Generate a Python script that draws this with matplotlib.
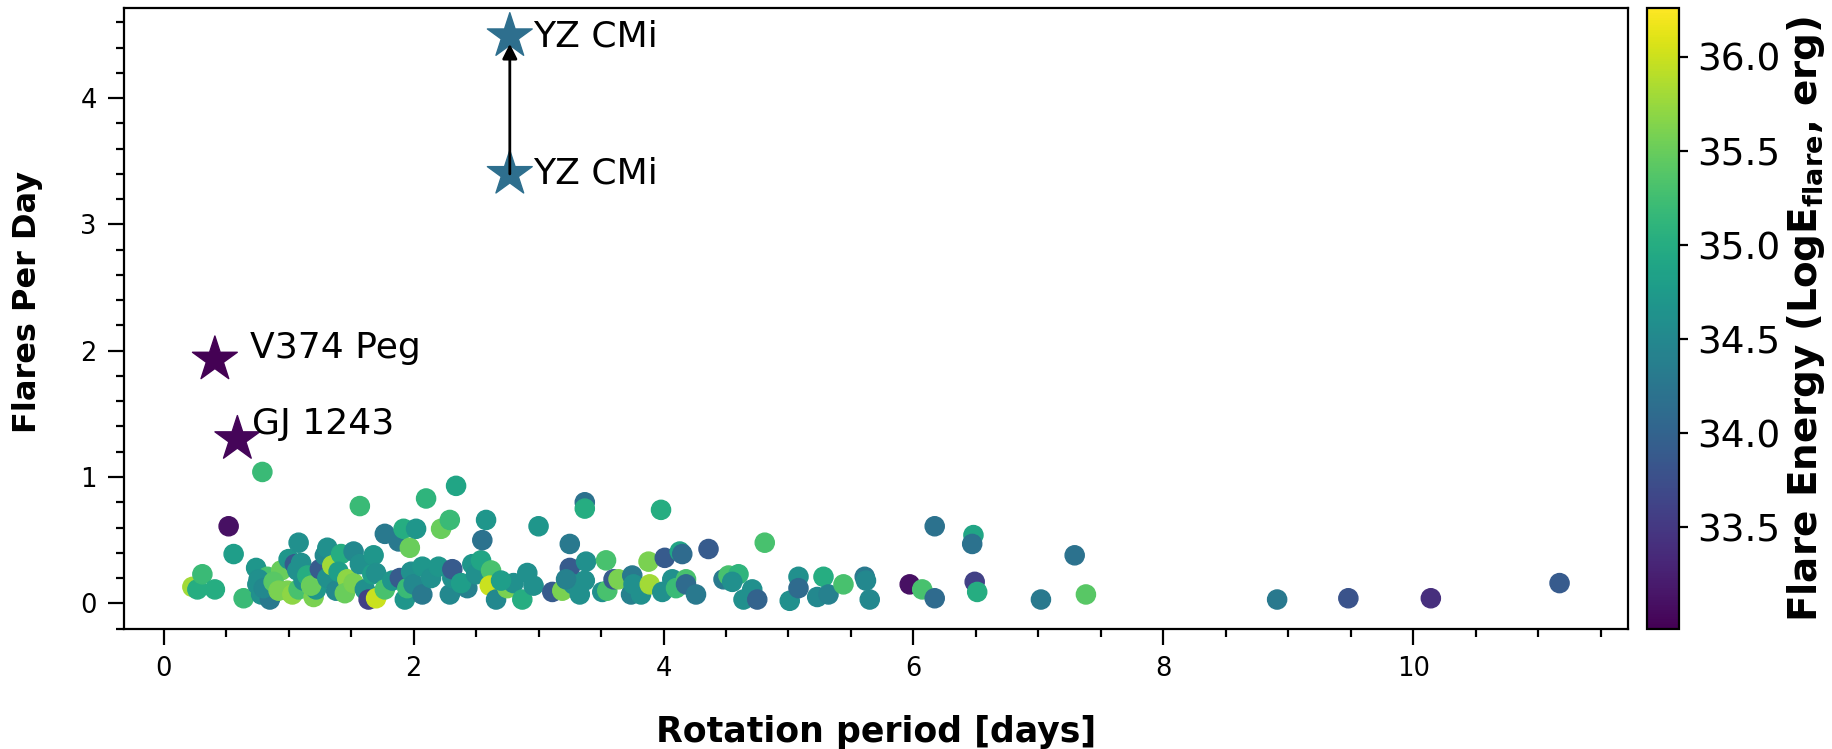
import matplotlib
matplotlib.use("Agg")
import matplotlib.pyplot as plt
from matplotlib.ticker import MultipleLocator

# Rotation period [days], flare rate [per day], log flare energy [erg]
period = [
    0.23, 0.27, 0.31, 0.41, 0.52, 0.56, 0.64, 0.74, 0.75, 0.78,
    0.79, 0.83, 0.85, 0.76, 0.80, 0.94, 0.88, 0.92, 0.99, 1.00,
    1.03, 1.05, 1.07, 1.08, 1.08, 1.10, 1.12, 1.15, 1.20, 1.22,
    1.18, 1.25, 1.29, 1.31, 1.31, 1.35, 1.38, 1.42, 1.40, 1.47,
    1.45, 1.52, 1.52, 1.57, 1.57, 1.61, 1.64, 1.67, 1.68, 1.70,
    1.70, 1.77, 1.77, 1.83, 1.88, 1.89, 1.92, 1.93, 1.97, 1.95,
    1.98, 2.00, 2.02, 2.07, 2.07, 2.10, 2.14, 2.20, 2.22, 2.29,
    2.29, 2.31, 2.31, 2.34, 2.43, 2.47, 2.38, 2.50, 2.54, 2.55,
    2.58, 2.62, 2.61, 2.66, 2.75, 2.80, 2.87, 2.91, 2.96, 3.00,
    2.70, 3.11, 3.19, 3.25, 3.25, 3.28, 3.33, 3.37, 3.37, 3.38,
    3.37, 3.22, 3.51, 3.54, 3.55, 3.60, 3.64, 3.74, 3.75, 3.76,
    3.82, 3.88, 3.89, 3.98, 3.99, 4.01, 4.07, 4.10, 4.13, 4.15,
    4.18, 4.18, 4.26, 4.36, 4.48, 4.52, 4.60, 4.55, 4.64, 4.71,
    4.75, 4.81, 5.01, 5.08, 5.08, 5.23, 5.28, 5.32, 5.44, 5.61,
    5.62, 5.65, 5.97, 6.07, 6.17, 6.17, 6.48, 6.47, 6.49, 6.51,
    7.02, 7.29, 7.38, 8.91, 9.48, 10.14, 11.17,
]
flares_per_day = [
    0.13, 0.11, 0.23, 0.11, 0.61, 0.39, 0.04, 0.28, 0.15, 0.07,
    1.04, 0.21, 0.03, 0.19, 0.12, 0.26, 0.17, 0.10, 0.10, 0.35,
    0.07, 0.31, 0.26, 0.48, 0.11, 0.32, 0.18, 0.22, 0.05, 0.11,
    0.14, 0.27, 0.38, 0.44, 0.20, 0.30, 0.10, 0.39, 0.25, 0.19,
    0.08, 0.16, 0.41, 0.77, 0.31, 0.11, 0.03, 0.23, 0.38, 0.04,
    0.24, 0.55, 0.11, 0.18, 0.49, 0.20, 0.59, 0.03, 0.44, 0.12,
    0.25, 0.15, 0.59, 0.29, 0.07, 0.83, 0.20, 0.29, 0.59, 0.66,
    0.07, 0.20, 0.27, 0.93, 0.12, 0.31, 0.16, 0.23, 0.34, 0.50,
    0.66, 0.26, 0.14, 0.03, 0.12, 0.16, 0.03, 0.24, 0.14, 0.61,
    0.18, 0.09, 0.10, 0.47, 0.28, 0.15, 0.07, 0.80, 0.75, 0.33,
    0.18, 0.19, 0.09, 0.34, 0.10, 0.19, 0.19, 0.07, 0.22, 0.15,
    0.07, 0.33, 0.15, 0.74, 0.09, 0.36, 0.19, 0.12, 0.41, 0.39,
    0.19, 0.15, 0.07, 0.43, 0.19, 0.22, 0.23, 0.17, 0.03, 0.11,
    0.03, 0.48, 0.02, 0.21, 0.12, 0.05, 0.21, 0.07, 0.15, 0.21,
    0.18, 0.03, 0.15, 0.11, 0.61, 0.04, 0.54, 0.47, 0.17, 0.09,
    0.03, 0.38, 0.07, 0.03, 0.04, 0.04, 0.16,
]
log_energy = [
    35.8, 35.0, 35.2, 35.0, 33.1, 34.8, 35.2, 34.7, 34.6, 34.6,
    35.2, 35.3, 34.3, 34.6, 34.5, 35.5, 35.4, 35.6, 35.6, 34.7,
    35.7, 33.9, 34.6, 34.6, 35.3, 34.6, 34.6, 35.0, 35.6, 34.7,
    35.5, 33.9, 34.5, 34.6, 34.6, 35.8, 34.5, 35.0, 34.8, 35.7,
    35.5, 35.6, 34.5, 35.2, 34.6, 34.6, 33.6, 34.8, 34.7, 36.0,
    34.6, 34.3, 35.3, 34.7, 34.3, 33.9, 35.0, 34.7, 35.5, 35.2,
    34.6, 34.5, 34.7, 34.7, 34.3, 35.1, 34.6, 34.7, 35.5, 35.2,
    34.5, 34.6, 33.9, 34.9, 34.4, 34.7, 34.8, 34.6, 34.9, 34.2,
    34.7, 35.3, 36.0, 34.5, 35.6, 34.6, 35.0, 34.6, 34.6, 34.7,
    34.8, 33.9, 35.6, 34.3, 33.9, 34.6, 34.6, 34.2, 35.0, 34.6,
    34.6, 34.4, 34.6, 35.3, 35.3, 33.9, 35.6, 34.4, 34.3, 34.6,
    34.6, 35.6, 35.8, 35.0, 34.6, 33.9, 34.6, 35.2, 34.9, 34.1,
    35.3, 34.1, 34.3, 33.9, 34.3, 35.3, 35.1, 34.6, 34.6, 34.6,
    34.0, 35.3, 34.6, 34.6, 34.1, 34.5, 35.0, 34.4, 35.3, 34.3,
    34.5, 34.5, 33.1, 35.3, 34.2, 34.1, 34.9, 34.2, 33.6, 35.0,
    34.3, 34.2, 35.4, 34.3, 33.8, 33.4, 33.9,
]

# Highlighted stars
star_names = ["V374 Peg", "GJ 1243", "YZ CMi", "YZ CMi"]
star_period = [0.41, 0.59, 2.77, 2.77]
star_rate = [1.93, 1.30, 3.40, 4.49]
star_energy = [32.97, 33.0, 34.15, 34.15]
label_dx = [0.28, 0.12, 0.19, 0.19]
label_dy = [0.09, 0.12, 0.0, 0.0]

E_MIN, E_MAX = 32.96, 36.26
cbar_ticks = [33.5, 34.0, 34.5, 35.0, 35.5, 36.0]

fig = plt.figure(figsize=(18.32, 7.49), dpi=100)
ax = fig.add_axes([0.0677, 0.1602, 0.8209, 0.8291])
cax = fig.add_axes([0.899, 0.1602, 0.0175, 0.8291])

sc = ax.scatter(period, flares_per_day, c=log_energy, cmap="viridis",
                vmin=E_MIN, vmax=E_MAX, s=190, zorder=2)
ax.scatter(star_period, star_rate, c=star_energy, cmap="viridis",
           vmin=E_MIN, vmax=E_MAX, marker="*", s=1150, zorder=3)

# Arrow joining the two YZ CMi estimates
ax.annotate("", xy=(star_period[3], star_rate[3] - 0.06),
            xytext=(star_period[2], star_rate[2]),
            arrowprops=dict(arrowstyle="-|>", color="black", lw=2,
                            mutation_scale=22, shrinkA=0, shrinkB=0),
            zorder=4)

for name, x, y, dx, dy in zip(star_names, star_period, star_rate, label_dx, label_dy):
    ax.text(x + dx, y + dy, name, fontsize=26, va="center", ha="left", zorder=5)

ax.xaxis.set_major_locator(MultipleLocator(2))
ax.xaxis.set_minor_locator(MultipleLocator(0.5))
ax.yaxis.set_major_locator(MultipleLocator(1))
ax.yaxis.set_minor_locator(MultipleLocator(0.2))
ax.tick_params(which="major", length=11.5, width=1.6, labelsize=18.5, pad=8)
ax.tick_params(which="minor", length=5.5, width=1.6)
for sp in ax.spines.values():
    sp.set_linewidth(1.6)

ax.set_xlabel("Rotation period [days]", fontsize=25, fontweight="bold", labelpad=24)
ax.set_ylabel("Flares Per Day", fontsize=23, fontweight="bold")
ax.yaxis.set_label_coords(-0.054, 0.527)

cb = fig.colorbar(sc, cax=cax, ticks=cbar_ticks)
cb.ax.tick_params(labelsize=27, length=6.5, width=1.6, pad=6.5)
cb.outline.set_linewidth(1.6)
cb.set_label(r"Flare Energy (LogE$_{\mathbf{flare}}$, erg)", fontsize=28,
             fontweight="bold", labelpad=3)

fig.savefig("out.png", dpi=100)
